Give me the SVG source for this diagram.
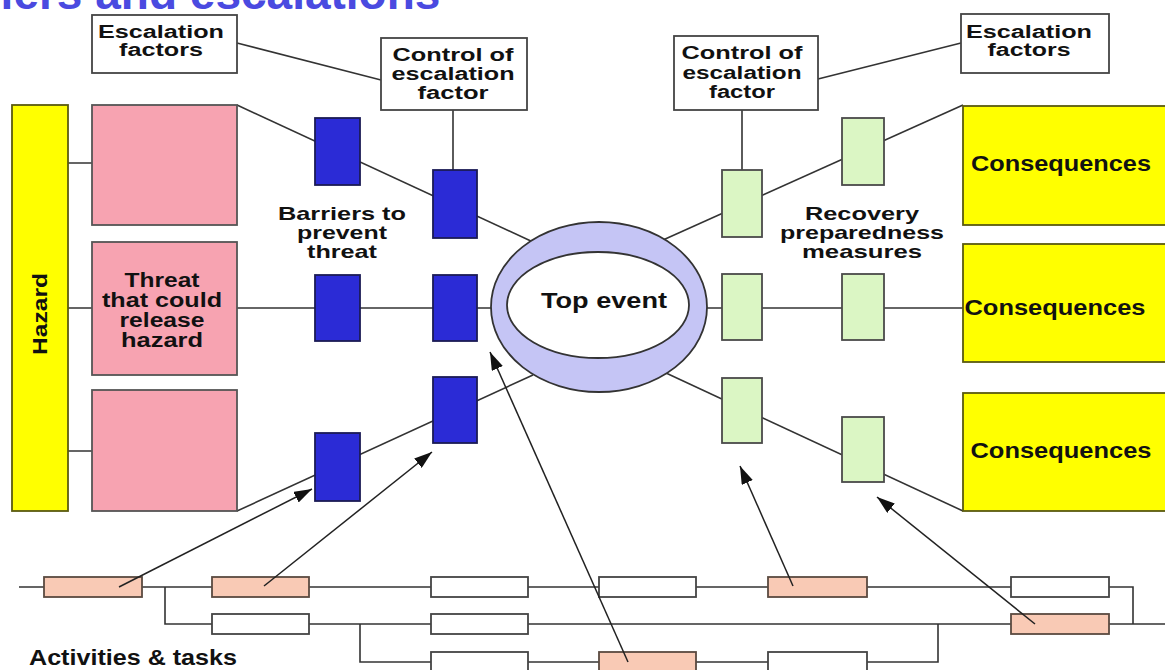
<svg xmlns="http://www.w3.org/2000/svg" width="1165" height="670" viewBox="0 0 1165 670">
<style>
text{font-family:"Liberation Sans",Arial,sans-serif;font-weight:bold;fill:#111;}
.c{text-anchor:middle;}
.ln{stroke:#333;stroke-width:1.6;fill:none;}
.box{fill:#fff;stroke:#444;stroke-width:1.8;}
.haz{fill:#ffff00;stroke:#5a5a10;stroke-width:1.8;}
.pink{fill:#f7a3b1;stroke:#555;stroke-width:1.8;}
.blue{fill:#2b2bd6;stroke:#1b1b55;stroke-width:1.8;}
.green{fill:#dbf6c4;stroke:#4a4a4a;stroke-width:1.8;}
.act{fill:#fff;stroke:#444;stroke-width:1.8;}
.actp{fill:#f9cab5;stroke:#5a4a40;stroke-width:1.8;}
.arr{stroke:#222;stroke-width:1.5;fill:none;marker-end:url(#ah);}
</style>
<defs>
<marker id="ah" markerUnits="userSpaceOnUse" markerWidth="18" markerHeight="12" refX="18" refY="6" orient="auto">
<path d="M0,0 L18,6 L0,12 z" fill="#111"/>
</marker>
</defs>
<rect width="1165" height="670" fill="#fff"/>
<text x="-94" y="9" style="font-size:46px;fill:#4a4ae0;">Barriers and escalations</text>

<g id="connectors">
<path class="ln" d="M237,43 L381,80"/>
<path class="ln" d="M818,79 L961,43"/>
<path class="ln" d="M453,110 V170"/>
<path class="ln" d="M742,110 V170"/>
<path class="ln" d="M68,163 H92 M68,308 H92 M68,451 H92"/>
<path class="ln" d="M237,105 L533,242"/>
<path class="ln" d="M237,308 H493"/>
<path class="ln" d="M237,511 L533,375"/>
<path class="ln" d="M663,240 L963,105"/>
<path class="ln" d="M707,308 H963"/>
<path class="ln" d="M666,373 L963,511"/>
<path class="ln" d="M19,587 H1133 V624"/>
<path class="ln" d="M165,587 V624 H1165"/>
<path class="ln" d="M360,624 V662 H938 V624"/>
</g>

<g id="esc-left"><rect class="box" x="92" y="15" width="145" height="58"/>
<text class="c" x="161" y="38" style="font-size:18px" textLength="126" lengthAdjust="spacingAndGlyphs">Escalation</text>
<text class="c" x="161" y="56" style="font-size:18px" textLength="84" lengthAdjust="spacingAndGlyphs">factors</text></g>
<g id="ctrl-left"><rect class="box" x="381" y="38" width="146" height="72"/>
<text class="c" x="453" y="61" style="font-size:18px" textLength="121" lengthAdjust="spacingAndGlyphs">Control of</text>
<text class="c" x="453" y="80" style="font-size:18px" textLength="123" lengthAdjust="spacingAndGlyphs">escalation</text>
<text class="c" x="453" y="99" style="font-size:18px" textLength="71" lengthAdjust="spacingAndGlyphs">factor</text></g>
<g id="ctrl-right"><rect class="box" x="674" y="36" width="144" height="74"/>
<text class="c" x="742" y="59" style="font-size:18px" textLength="121" lengthAdjust="spacingAndGlyphs">Control of</text>
<text class="c" x="742" y="79" style="font-size:18px" textLength="119" lengthAdjust="spacingAndGlyphs">escalation</text>
<text class="c" x="742" y="98" style="font-size:18px" textLength="66" lengthAdjust="spacingAndGlyphs">factor</text></g>
<g id="esc-right"><rect class="box" x="961" y="14" width="148" height="59"/>
<text class="c" x="1029" y="38" style="font-size:18px" textLength="126" lengthAdjust="spacingAndGlyphs">Escalation</text>
<text class="c" x="1029" y="56" style="font-size:18px" textLength="83" lengthAdjust="spacingAndGlyphs">factors</text></g>

<g id="hazard"><rect class="haz" x="12" y="105" width="56" height="406"/>
<text class="c" transform="translate(47,314) rotate(-90)" style="font-size:20px" textLength="82" lengthAdjust="spacingAndGlyphs">Hazard</text></g>

<g id="threat1"><rect class="pink" x="92" y="105" width="145" height="120"/></g>
<g id="threat2"><rect class="pink" x="92" y="242" width="145" height="133"/>
<text class="c" x="162" y="287" style="font-size:20px" textLength="75" lengthAdjust="spacingAndGlyphs">Threat</text>
<text class="c" x="162" y="307" style="font-size:20px" textLength="120" lengthAdjust="spacingAndGlyphs">that could</text>
<text class="c" x="162" y="327" style="font-size:20px" textLength="85" lengthAdjust="spacingAndGlyphs">release</text>
<text class="c" x="162" y="347" style="font-size:20px" textLength="82" lengthAdjust="spacingAndGlyphs">hazard</text></g>
<g id="threat3"><rect class="pink" x="92" y="390" width="145" height="121"/></g>

<g id="barriers">
<rect class="blue" x="315" y="118" width="45" height="67"/>
<rect class="blue" x="315" y="275" width="45" height="66"/>
<rect class="blue" x="315" y="433" width="45" height="68"/>
<rect class="blue" x="433" y="170" width="44" height="68"/>
<rect class="blue" x="433" y="275" width="44" height="66"/>
<rect class="blue" x="433" y="377" width="44" height="66"/>
</g>
<g id="barriers-label">
<text class="c" x="342" y="220" style="font-size:19px" textLength="128" lengthAdjust="spacingAndGlyphs">Barriers to</text>
<text class="c" x="342" y="239" style="font-size:19px" textLength="90" lengthAdjust="spacingAndGlyphs">prevent</text>
<text class="c" x="342" y="258" style="font-size:19px" textLength="70" lengthAdjust="spacingAndGlyphs">threat</text>
</g>

<g id="top-event">
<ellipse cx="599" cy="307" rx="108" ry="85" fill="#c5c5f5" stroke="#333" stroke-width="1.8"/>
<ellipse cx="598" cy="305" rx="91" ry="53" fill="#fff" stroke="#333" stroke-width="1.8"/>
<text class="c" x="604" y="308" style="font-size:22px" textLength="126" lengthAdjust="spacingAndGlyphs">Top event</text>
</g>

<g id="recovery">
<rect class="green" x="722" y="170" width="40" height="67"/>
<rect class="green" x="722" y="274" width="40" height="66"/>
<rect class="green" x="722" y="378" width="40" height="65"/>
<rect class="green" x="842" y="118" width="42" height="67"/>
<rect class="green" x="842" y="274" width="42" height="66"/>
<rect class="green" x="842" y="417" width="42" height="65"/>
</g>
<g id="recovery-label">
<text class="c" x="862" y="220" style="font-size:19px" textLength="114" lengthAdjust="spacingAndGlyphs">Recovery</text>
<text class="c" x="862" y="239" style="font-size:19px" textLength="164" lengthAdjust="spacingAndGlyphs">preparedness</text>
<text class="c" x="862" y="258" style="font-size:19px" textLength="120" lengthAdjust="spacingAndGlyphs">measures</text>
</g>

<g id="cons1"><rect class="haz" x="963" y="106" width="210" height="119"/>
<text class="c" x="1061" y="171" style="font-size:22px" textLength="180" lengthAdjust="spacingAndGlyphs">Consequences</text></g>
<g id="cons2"><rect class="haz" x="963" y="244" width="210" height="118"/>
<text class="c" x="1055" y="315" style="font-size:22px" textLength="181" lengthAdjust="spacingAndGlyphs">Consequences</text></g>
<g id="cons3"><rect class="haz" x="963" y="393" width="210" height="118"/>
<text class="c" x="1061" y="458" style="font-size:22px" textLength="181" lengthAdjust="spacingAndGlyphs">Consequences</text></g>

<g id="activities">
<rect class="actp" x="44" y="577" width="98" height="20"/>
<rect class="actp" x="212" y="577" width="97" height="20"/>
<rect class="act" x="431" y="577" width="97" height="20"/>
<rect class="act" x="599" y="577" width="97" height="20"/>
<rect class="actp" x="768" y="577" width="99" height="20"/>
<rect class="act" x="1011" y="577" width="98" height="20"/>
<rect class="act" x="212" y="614" width="97" height="20"/>
<rect class="act" x="431" y="614" width="97" height="20"/>
<rect class="actp" x="1011" y="614" width="98" height="20"/>
<rect class="act" x="431" y="652" width="97" height="20"/>
<rect class="actp" x="599" y="652" width="97" height="20"/>
<rect class="act" x="768" y="652" width="99" height="20"/>
<text x="29" y="665" style="font-size:22px" textLength="208" lengthAdjust="spacingAndGlyphs">Activities &amp; tasks</text>
</g>

<g id="activity-arrows">
<path class="arr" d="M119,587 L312,489"/>
<path class="arr" d="M264,586 L432,452"/>
<path class="arr" d="M628,662 L490,352"/>
<path class="arr" d="M793,586 L740,466"/>
<path class="arr" d="M1035,624 L877,497"/>
</g>
</svg>
